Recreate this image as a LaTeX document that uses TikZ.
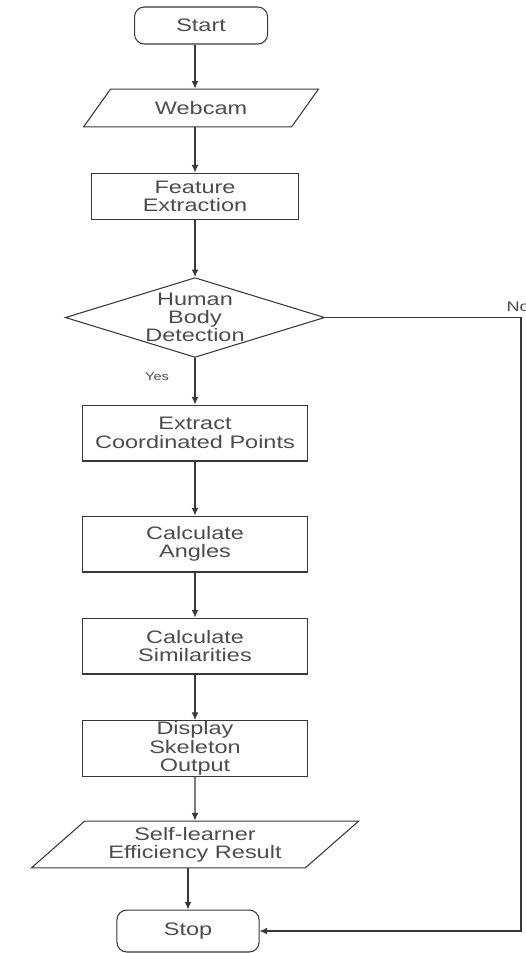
\documentclass[tikz,border=0pt]{standalone}
\usepackage{fontspec}
\setmainfont[FakeStretch=1.3]{Liberation Sans}
\usepackage{tikz}
\usetikzlibrary{shapes.geometric, arrows.meta, calc}
\definecolor{flowline}{rgb}{0.22, 0.22, 0.22}
\definecolor{flowtext}{rgb}{0.3, 0.3, 0.3}

\begin{document}
\begin{tikzpicture}[every node/.style={align=center, text=flowtext, inner sep=0pt, font=\fontsize{13.6}{13.8}\selectfont},
    terminal/.style={draw=flowline, rounded corners=2.6mm, minimum width=35.2mm, minimum height=9.8mm},
    inout/.style={draw=flowline, trapezium, trapezium stretches=true, minimum height=10mm},
    process/.style={draw=flowline, rectangle, minimum width=59.3mm, minimum height=14.8mm},
    decision/.style={draw=flowline, diamond, aspect=3.25},
    small/.style={font=\fontsize{8.5}{10}\selectfont},
    color=flowline, line width=0.8pt, >={Latex[length=2mm,width=1.8mm]}]
            \useasboundingbox (-51.6mm,6.75mm) rectangle (87.58mm,-245.42mm);
            \node[terminal] (start) at (1.6mm,0) {Start};
            \node[inout, trapezium left angle=44, trapezium right angle=136, minimum width=62.7mm] (webcam) [below of = start, node distance=21.83mm] {Webcam};
            \node[process, minimum width=55mm, minimum height=12.4mm] (feat) [below of = webcam, node distance=23.42mm, xshift=-1.6mm] {Feature\\Extraction};
            \node[decision] (body) [below of = feat, node distance=32.02mm] {Human\\Body\\Detection};
            \node[process] (extract) [below of = body, node distance=30.56mm] {Extract\\Coordinated Points};
            \node[process] (angles) [below of = extract, node distance=29.37mm] {Calculate\\Angles};
            \node[process] (simil) [below of = angles, node distance=26.99mm] {Calculate\\Similarities};
            \node[process] (skel) [below of = simil, node distance=27.12mm] {Display\\Skeleton\\Output};
            \node[inout, trapezium left angle=40, trapezium right angle=140, minimum width=86.8mm, minimum height=12.4mm] (selfl) [below of = skel, node distance=25.4mm] {Self-learner\\Efficiency Result};
            \node[terminal, minimum width=37.6mm, minimum height=11.1mm] (stop) [below of = selfl, node distance=22.89mm, xshift=-1.85mm] {Stop};
            \node[small] (yes) [below of = body, node distance=15.7mm, xshift=-10.05mm] {Yes};
            \node[font=\fontsize{10.5}{12}\selectfont] (no) [right of = body, node distance=82.3mm, yshift=2.8mm, anchor=west] {No};
            \coordinate[right of = body, node distance=86.26mm] (nturn);
            \path[->] (start.south -| feat) edge (webcam.north -| feat)
                (webcam.south -| feat) edge (feat)
                (feat) edge (body)
                (body) edge (extract)
                (extract) edge (angles)
                (angles) edge (simil)
                (simil) edge (skel)
                (skel) edge (selfl)
                (selfl.south -| stop) edge (stop);
            \draw[->] (body.east) -- (nturn) |- (stop);
        \end{tikzpicture}
\end{document}
